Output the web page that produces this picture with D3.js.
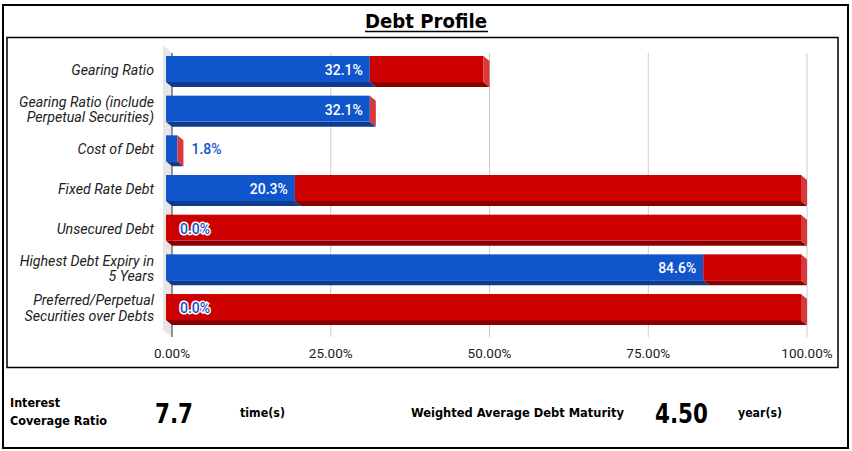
<!DOCTYPE html>
<html>
<head>
<meta charset="utf-8">
<script src="https://cdn.jsdelivr.net/npm/d3@7"></script>
<style>
    body { margin: 0; background: #fff; }
    .catLabel { font-family: Roboto, sans-serif; font-style: italic; font-size: 14.2px; fill: #222; }
    .tickLabel { font-family: Roboto, sans-serif; font-size: 13.5px; fill: #222; }
    .valLabel { font-family: Roboto, sans-serif; font-size: 14px; font-weight: 500; }
    .calibri { font-family: "Liberation Sans Narrow", "DejaVu Sans Condensed", sans-serif; font-weight: bold; fill: #000; }
</style>
</head>
<body>
<script>
(function(){
    //chart data
    var categories = [
        "Gearing Ratio",
        "Gearing Ratio (include Perpetual Securities)",
        "Cost of Debt",
        "Fixed Rate Debt",
        "Unsecured Debt",
        "Highest Debt Expiry in 5 Years",
        "Preferred/Perpetual Securities over Debts"
    ];
    //how each category label wraps
    var categoryLines = [
        ["Gearing Ratio"],
        ["Gearing Ratio (include", "Perpetual Securities)"],
        ["Cost of Debt"],
        ["Fixed Rate Debt"],
        ["Unsecured Debt"],
        ["Highest Debt Expiry in", "5 Years"],
        ["Preferred/Perpetual", "Securities over Debts"]
    ];
    var actualValues = [32.1, 32.1, 1.8, 20.3, 0.0, 84.6, 0.0];
    var remainderValues = [17.9, 0, 0, 79.7, 100, 15.4, 100];
    var xTicks = [0, 25, 50, 75, 100];

    //summary figures under the chart
    var coverageRatio = "7.7";
    var debtMaturity = "4.50";

    var width = 852,
        height = 451;

    var blue = "#1155cc", blueDark = "#0d3b8e",
        red = "#cc0000", redDark = "#8a0000", redSide = "#d83a3c";

    //3d depth offset
    var dx = 6, dy = 5;

    var svg = d3.select("body")
        .append("svg")
        .attr("width", width)
        .attr("height", height);

    //outer frame
    svg.append("rect")
        .attr("x", 3).attr("y", 5)
        .attr("width", 845).attr("height", 443)
        .attr("fill", "none").attr("stroke", "#000").attr("stroke-width", 2);

    //chart frame
    svg.append("rect")
        .attr("x", 7).attr("y", 37.5)
        .attr("width", 831).attr("height", 330)
        .attr("fill", "none").attr("stroke", "#000").attr("stroke-width", 1.5);

    //title
    svg.append("text")
        .attr("class", "calibri")
        .attr("x", 365).attr("y", 28)
        .attr("font-size", 19)
        .attr("textLength", 122).attr("lengthAdjust", "spacingAndGlyphs")
        .text("Debt Profile");
    svg.append("line")
        .attr("x1", 365).attr("x2", 488)
        .attr("y1", 31.5).attr("y2", 31.5)
        .attr("stroke", "#000").attr("stroke-width", 1.5);

    //scales
    var x = d3.scaleLinear()
        .domain([0, 100])
        .range([166, 801]);

    var y = d3.scaleBand()
        .domain(categories)
        .range([42.3, 333.7])
        .padding(0.345);

    var bw = y.bandwidth();

    //left wall of the 3d plot
    var wallTop = 45, wallBottom = 330;
    svg.append("polygon")
        .attr("points", [
            [x(0) - 3, wallTop], [x(0) + dx, wallTop + 8],
            [x(0) + dx, wallBottom + 7], [x(0) - 3, wallBottom]
        ].join(" "))
        .attr("fill", "#e6e6e6");

    //gridlines on the back plane
    svg.selectAll(".grid")
        .data(xTicks)
        .enter()
        .append("line")
        .attr("class", "grid")
        .attr("x1", d => x(d) + dx).attr("x2", d => x(d) + dx)
        .attr("y1", 53).attr("y2", 337)
        .attr("stroke", d => d === 0 ? "#333" : "#ccc")
        .attr("stroke-width", 1);

    //x axis labels
    svg.selectAll(".tickLabel")
        .data(xTicks)
        .enter()
        .append("text")
        .attr("class", "tickLabel")
        .attr("x", d => x(d) + dx)
        .attr("y", 358)
        .attr("text-anchor", "middle")
        .text(d => d3.format(".2f")(d) + "%");

    //build stacked segments
    var segments = [];
    categories.forEach(function(c, i){
        segments.push({cat: c, x0: 0, x1: actualValues[i], face: blue, bottom: blueDark});
        segments.push({cat: c, x0: actualValues[i], x1: actualValues[i] + remainderValues[i], face: red, bottom: redDark});
    });

    var bars = svg.append("g");

    //bottom faces
    bars.selectAll(".bottom")
        .data(segments.filter(d => d.x1 > d.x0))
        .enter()
        .append("polygon")
        .attr("points", function(d){
            var yb = y(d.cat) + bw;
            return [[x(d.x0), yb], [x(d.x1), yb], [x(d.x1) + dx, yb + dy], [x(d.x0) + dx, yb + dy]].join(" ");
        })
        .attr("fill", d => d.bottom);

    //front faces
    bars.selectAll(".front")
        .data(segments.filter(d => d.x1 > d.x0))
        .enter()
        .append("rect")
        .attr("x", d => x(d.x0))
        .attr("y", d => y(d.cat))
        .attr("width", d => x(d.x1) - x(d.x0))
        .attr("height", bw)
        .attr("fill", d => d.face);

    //right side faces
    bars.selectAll(".side")
        .data(categories)
        .enter()
        .append("polygon")
        .attr("points", function(d, i){
            var xe = x(actualValues[i] + remainderValues[i]), yt = y(d);
            return [[xe, yt], [xe + dx, yt + dy], [xe + dx, yt + bw + dy], [xe, yt + bw]].join(" ");
        })
        .attr("fill", redSide);

    //value labels
    svg.selectAll(".valLabel")
        .data(categories)
        .enter()
        .append("text")
        .attr("class", "valLabel")
        .attr("x", function(d, i){
            return actualValues[i] > 10 ? x(actualValues[i]) - 7 : x(actualValues[i]) + 14;
        })
        .attr("y", d => y(d) + bw / 2 + 1)
        .attr("dominant-baseline", "central")
        .attr("text-anchor", (d, i) => actualValues[i] > 10 ? "end" : "start")
        .attr("fill", (d, i) => actualValues[i] > 10 ? "#fff" : blue)
        .attr("stroke", (d, i) => actualValues[i] > 10 ? "none" : "#fff")
        .attr("stroke-width", 3)
        .attr("paint-order", "stroke")
        .text((d, i) => actualValues[i].toFixed(1) + "%");

    //category labels
    var catText = svg.selectAll(".catLabel")
        .data(categories)
        .enter()
        .append("text")
        .attr("class", "catLabel")
        .attr("text-anchor", "end")
        .attr("x", 154)
        .attr("y", d => y(d) + bw / 2 + 1);

    catText.each(function(d, i){
        var lines = categoryLines[i];
        var start = -(lines.length - 1) * 15.5 / 2;
        d3.select(this).selectAll("tspan")
            .data(lines)
            .enter()
            .append("tspan")
            .attr("x", 154)
            .attr("dy", (l, j) => j === 0 ? start : 15.5)
            .attr("dominant-baseline", "central")
            .text(l => l);
    });

    //summary row
    var summary = [
        {t: "Interest", x: 10, y: 407, size: 13, w: 50},
        {t: "Coverage Ratio", x: 10, y: 425, size: 13, w: 97},
        {t: coverageRatio, x: 155, y: 423, size: 27, w: 38},
        {t: "time(s)", x: 240, y: 417, size: 13, w: 45},
        {t: "Weighted Average Debt Maturity", x: 411, y: 417, size: 13, w: 213},
        {t: debtMaturity, x: 655, y: 423, size: 27, w: 53},
        {t: "year(s)", x: 738, y: 417, size: 13, w: 44}
    ];
    svg.selectAll(".summary")
        .data(summary)
        .enter()
        .append("text")
        .attr("class", "calibri")
        .attr("x", d => d.x)
        .attr("y", d => d.y)
        .attr("font-size", d => d.size)
        .attr("textLength", d => d.w)
        .attr("lengthAdjust", "spacingAndGlyphs")
        .text(d => d.t);
})();
</script>
</body>
</html>
